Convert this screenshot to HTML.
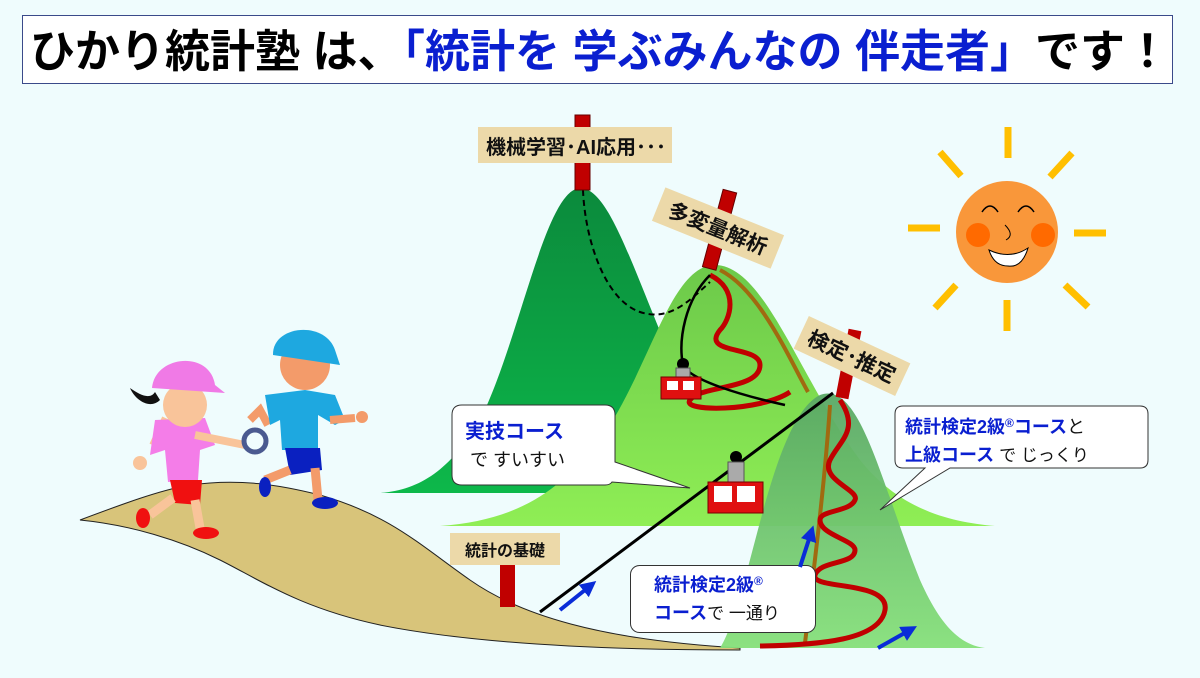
<!DOCTYPE html>
<html><head><meta charset="utf-8"><style>
html,body{margin:0;padding:0;background:#effcfd;}
svg{display:block}
text{font-family:"Liberation Sans","Noto Sans CJK JP",sans-serif;}
</style></head><body>
<svg width="1200" height="678" viewBox="0 0 1200 678" xmlns="http://www.w3.org/2000/svg">
<defs>
<linearGradient id="g1" x1="0" y1="0" x2="0" y2="1"><stop offset="0" stop-color="#0b8a3c"/><stop offset="1" stop-color="#0db84a"/></linearGradient>
<linearGradient id="g2" x1="0" y1="0" x2="0" y2="1"><stop offset="0" stop-color="#6cc94a"/><stop offset="1" stop-color="#8fee55"/></linearGradient>
<linearGradient id="g3" x1="0" y1="0" x2="0" y2="1"><stop offset="0" stop-color="#5aa865" stop-opacity="0.95"/><stop offset="1" stop-color="#86e07a" stop-opacity="0.95"/></linearGradient>
<marker id="ah" markerWidth="4" markerHeight="4" refX="2" refY="2" orient="auto"><path d="M0,0 L4,2 L0,4 z" fill="#0a2cd8"/></marker>
</defs>
<rect width="1200" height="678" fill="#effcfd"/>
<!-- title -->
<rect x="22.5" y="15.5" width="1150" height="68" fill="#fff" stroke="#3a4a8a" stroke-width="1"/>
<text x="30" y="67" font-size="45" font-weight="bold" fill="#000">ひかり統計塾 は、<tspan fill="#0a1fd0">「統計を 学ぶみんなの 伴走者」</tspan>です！</text>

<!-- dark mountain -->
<path d="M380,493 C420,490 450,470 480,420 C520,340 545,190 580,188 C615,188 640,300 700,420 C720,460 740,480 760,493 Z" fill="url(#g1)"/>
<!-- middle mountain -->
<path d="M440,526 C520,520 560,490 600,440 C650,370 670,265 715,265 C765,265 800,380 860,460 C900,510 950,522 995,526 Z" fill="url(#g2)"/>
<!-- path -->
<path d="M80,520 C120,505 160,490 190,485 C240,478 280,485 320,495 C390,515 420,545 470,580 C520,615 600,640 740,648 L740,650 C620,650 480,645 380,625 C300,608 260,580 220,560 C180,540 130,525 80,520 Z" fill="#d8c47a" stroke="#222" stroke-width="1"/>
<!-- front mountain -->
<path d="M720,648 C750,600 770,420 820,395 C860,380 880,480 920,580 C940,625 960,645 985,648 Z" fill="url(#g3)"/>

<!-- dashed path -->
<path d="M583,190 C585,240 605,300 640,312 C670,322 690,300 710,282" fill="none" stroke="#000" stroke-width="2" stroke-dasharray="6,4"/>
<!-- brown paths -->
<path d="M720,270 C760,290 790,360 808,392" fill="none" stroke="#a06a10" stroke-width="4"/>
<path d="M830,405 C825,480 815,560 805,643" fill="none" stroke="#a06a10" stroke-width="4"/>
<!-- red wiggles -->
<path d="M710,275 C740,290 730,320 720,330 C700,355 760,345 760,365 C760,390 700,385 690,400 C680,412 760,412 790,392" fill="none" stroke="#c00000" stroke-width="5" transform="translate(0,0)"/>
<path d="M840,400 C860,430 840,440 830,460 C820,480 860,490 855,500 C850,512 820,510 820,520 C820,535 855,540 855,550 C855,565 820,560 815,575 C810,590 890,580 885,610 C880,640 820,645 760,646" fill="none" stroke="#c00000" stroke-width="5"/>
<!-- upper cable -->
<path d="M710,275 C685,300 678,340 683,365 C690,380 740,395 785,405" fill="none" stroke="#000" stroke-width="2.5"/>
<circle cx="683" cy="364" r="6" fill="#000"/>
<rect x="676" y="368" width="14" height="12" fill="#aaa" stroke="#555"/>
<rect x="661" y="377" width="40" height="22" fill="#e01010" stroke="#700" stroke-width="1"/>
<rect x="667" y="381" width="11" height="9" fill="#fff"/><rect x="683" y="381" width="11" height="9" fill="#fff"/>
<!-- lower cable -->
<line x1="540" y1="612" x2="833" y2="393" stroke="#000" stroke-width="3"/>
<circle cx="736" cy="457" r="6" fill="#000"/>
<rect x="728" y="462" width="16" height="22" fill="#aaa" stroke="#555"/>
<rect x="708" y="482" width="55" height="31" fill="#e01010" stroke="#700"/>
<rect x="714" y="486" width="18" height="16" fill="#fff"/><rect x="737" y="486" width="18" height="16" fill="#fff"/>

<!-- signs -->
<rect x="575" y="115" width="15" height="75" fill="#c00000" stroke="#600"/>
<rect x="478" y="127" width="194" height="36" fill="#ecd9a9"/>
<text x="486" y="154" font-size="20" font-weight="bold" fill="#111">機械学習･AI応用･･･</text>

<g transform="rotate(20 720 232)">
<rect x="712" y="190" width="14" height="80" fill="#c00000" stroke="#600" transform="rotate(-5 720 232)"/>
</g>
<g transform="translate(718,228) rotate(22)">
<rect x="-64" y="-18" width="128" height="36" fill="#ecd9a9"/>
<text x="0" y="8" font-size="21" font-weight="bold" text-anchor="middle" fill="#111">多変量解析</text>
</g>
<line x1="855" y1="330" x2="842" y2="398" stroke="#c00000" stroke-width="13"/>
<g transform="translate(852,356) rotate(25)">
<rect x="-56" y="-18" width="112" height="36" fill="#ecd9a9"/>
<text x="0" y="8" font-size="21" font-weight="bold" text-anchor="middle" fill="#111">検定･推定</text>
</g>
<rect x="500" y="560" width="15" height="47" fill="#c00000"/>
<rect x="450" y="533" width="110" height="32" fill="#ecd9a9"/>
<text x="505" y="556" font-size="16" font-weight="bold" text-anchor="middle" fill="#111">統計の基礎</text>

<!-- callouts -->
<path d="M462,405 H605 Q615,405 615,415 V462 L690,488 L612,482 Q610,485 605,485 H462 Q452,485 452,475 V415 Q452,405 462,405 Z" fill="#fff" stroke="#333" stroke-width="1"/>
<text x="465" y="438" font-size="20" font-weight="bold" fill="#0a1fd0">実技コース</text>
<text x="470" y="466" font-size="18" fill="#111">で すいすい</text>
<path d="M903,406 H1140 Q1148,406 1148,414 V460 Q1148,468 1140,468 H950 L880,510 L925,468 H903 Q895,468 895,460 V414 Q895,406 903,406 Z" fill="#fff" stroke="#333" stroke-width="1"/>
<text x="905" y="433" font-size="18" font-weight="bold" fill="#0a1fd0">統計検定2級<tspan font-size="12" dy="-6">®</tspan><tspan dy="6">コース</tspan><tspan font-weight="normal" fill="#111">と</tspan></text>
<text x="905" y="461" font-size="18" font-weight="bold" fill="#0a1fd0">上級コース <tspan font-weight="normal" fill="#111" font-size="17"> で じっくり</tspan></text>
<rect x="630.5" y="565.5" width="185" height="67" rx="9" fill="#fff" stroke="#333"/>
<text x="654" y="591" font-size="18" font-weight="bold" fill="#0a1fd0">統計検定2級<tspan font-size="12" dy="-6">®</tspan></text>
<text x="654" y="619" font-size="18" font-weight="bold" fill="#0a1fd0">コース<tspan font-weight="normal" fill="#111" font-size="17">で 一通り</tspan></text>

<!-- blue arrows -->
<line x1="560" y1="610" x2="590" y2="586" stroke="#0a2cd8" stroke-width="4" marker-end="url(#ah)"/>
<line x1="800" y1="567" x2="811" y2="533" stroke="#0a2cd8" stroke-width="4" marker-end="url(#ah)"/>
<line x1="878" y1="648" x2="910" y2="630" stroke="#0a2cd8" stroke-width="4" marker-end="url(#ah)"/>

<!-- sun -->
<g stroke="#ffbf00" stroke-width="7">
<line x1="1008" y1="127" x2="1008" y2="158"/><line x1="1007" y1="300" x2="1007" y2="331"/>
<line x1="908" y1="228" x2="940" y2="228"/><line x1="1074" y1="233" x2="1106" y2="233"/>
<line x1="940" y1="152" x2="961" y2="176"/><line x1="1050" y1="177" x2="1072" y2="153"/>
<line x1="935" y1="308" x2="956" y2="285"/><line x1="1065" y1="285" x2="1088" y2="307"/>
</g>
<circle cx="1007" cy="232" r="51" fill="#f9973a"/>
<circle cx="978" cy="235" r="12" fill="#ff6a00"/><circle cx="1043" cy="235" r="12" fill="#ff6a00"/>
<path d="M982,212 Q990,200 998,212 M1018,212 Q1026,200 1034,212" fill="none" stroke="#000" stroke-width="1.5"/>
<path d="M1005,225 Q1015,235 1006,240" fill="none" stroke="#000" stroke-width="1"/>
<path d="M989,250 Q1010,260 1028,248 Q1022,268 1008,266 Q994,266 989,250 Z" fill="#fff" stroke="#000"/>

<!-- girl -->
<path d="M130,388 C140,395 150,400 155,392 L160,400 C150,410 135,400 130,388 Z" fill="#111"/>
<rect x="161" y="418" width="8" height="30" fill="#f9c49a" transform="rotate(25 165 420)"/>
<circle cx="140" cy="463" r="7" fill="#f9c49a"/>
<path d="M155,420 L205,418 L215,445 L200,450 L198,480 L168,482 L165,450 L150,455 Z" fill="#f47de8"/>
<path d="M195,435 L245,445" stroke="#f9c49a" stroke-width="8"/>
<path d="M170,480 L202,480 L200,505 L175,503 Z" fill="#f01010"/>
<path d="M173,498 L150,515 M195,500 L200,528" stroke="#f9c49a" stroke-width="9"/>
<ellipse cx="143" cy="518" rx="7" ry="10" fill="#f01010"/><ellipse cx="206" cy="533" rx="13" ry="6" fill="#f01010"/>
<circle cx="185" cy="405" r="22" fill="#f9c49a"/>
<path d="M152,388 C155,355 210,350 215,385 L225,393 Z" fill="#f07ae6"/>
<!-- ring -->
<circle cx="255" cy="441" r="11" fill="none" stroke="#4a5a90" stroke-width="5"/>
<!-- boy -->
<path d="M250,420 L260,410 L268,425" stroke="#f39b6a" stroke-width="8" fill="none"/>
<path d="M265,395 L305,390 L335,395 L345,420 L335,425 L318,415 L318,450 L282,450 L280,420 L270,425 Z" fill="#1ea8e0"/>
<path d="M330,420 L355,418" stroke="#f39b6a" stroke-width="8"/><circle cx="362" cy="417" r="6" fill="#f39b6a"/>
<path d="M285,448 L320,448 L322,470 L290,475 Z" fill="#0a20c0"/>
<path d="M290,470 L265,480 M315,468 L318,500" stroke="#f39b6a" stroke-width="9"/>
<ellipse cx="265" cy="487" rx="6" ry="10" fill="#0a20c0"/><ellipse cx="325" cy="503" rx="13" ry="6" fill="#0a20c0"/>
<circle cx="305" cy="365" r="25" fill="#f39b6a"/>
<path d="M273,355 C272,325 325,320 335,350 L340,365 Z" fill="#1ea8e0"/>
</svg>
</body></html>
